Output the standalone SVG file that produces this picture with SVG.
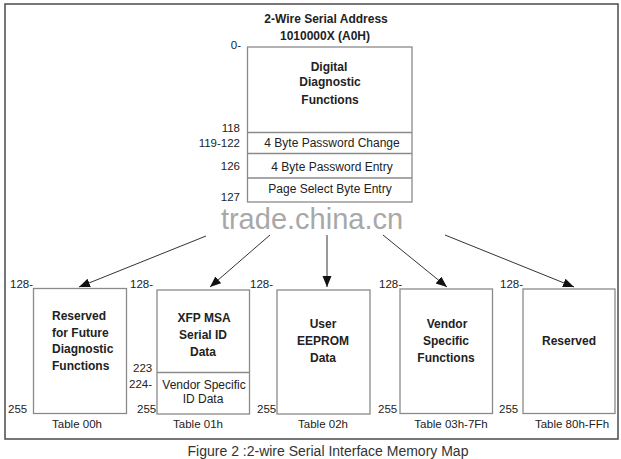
<svg xmlns="http://www.w3.org/2000/svg" width="621" height="459" viewBox="0 0 621 459">
<defs>
<marker id="ah" markerUnits="userSpaceOnUse" markerWidth="12" markerHeight="10" refX="11" refY="4.5" orient="auto">
<path d="M0,0 L11,4.5 L0,9 z" fill="#111"/>
</marker>
<style>
.box{fill:#fff;stroke:#8a8a8a;stroke-width:1.3}
.div{stroke:#8a8a8a;stroke-width:1.3}
.b{font-family:"Liberation Sans",Arial,sans-serif;font-weight:bold;font-size:12px;fill:#222}
.r{font-family:"Liberation Sans",Arial,sans-serif;font-size:12px;fill:#222}
.n{font-family:"Liberation Sans",Arial,sans-serif;font-size:11.5px;fill:#222}
.c{text-anchor:middle}
.e{text-anchor:end}
.arr{stroke:#333;stroke-width:1;fill:none;marker-end:url(#ah)}
</style>
</defs>
<rect width="621" height="459" fill="#fff"/>
<rect x="5" y="4" width="613" height="435" fill="none" stroke="#555" stroke-width="1.6"/>

<g id="title">
<text class="b c" x="326" y="23" font-size="13">2-Wire Serial Address</text>
<text class="b c" x="325" y="40" font-size="13">1010000X (A0H)</text>
</g>

<g id="main">
<rect class="box" x="247.5" y="47" width="164.5" height="155"/>
<line class="div" x1="247.5" y1="132.5" x2="412" y2="132.5"/>
<line class="div" x1="247.5" y1="153.5" x2="412" y2="153.5"/>
<line class="div" x1="247.5" y1="178" x2="412" y2="178"/>
<text class="b c" x="329" y="71">Digital</text>
<text class="b c" x="330" y="86">Diagnostic</text>
<text class="b c" x="330" y="104">Functions</text>
<text class="r c" x="332" y="147">4 Byte Password Change</text>
<text class="r c" x="332" y="171">4 Byte Password Entry</text>
<text class="r c" x="330" y="193">Page Select Byte Entry</text>
<text class="n e" x="241" y="49">0-</text>
<text class="n e" x="240" y="132">118</text>
<text class="n e" x="240" y="147">119-122</text>
<text class="n e" x="240" y="170">126</text>
<text class="n e" x="240" y="201">127</text>
</g>

<g id="connectors">
<line class="arr" x1="206" y1="236" x2="79" y2="287"/>
<line class="arr" x1="270" y1="235" x2="210" y2="287"/>
<line class="arr" x1="327" y1="235" x2="327" y2="287"/>
<line class="arr" x1="383" y1="235" x2="447" y2="287"/>
<line class="arr" x1="445" y1="235" x2="574" y2="287"/>
</g>

<g id="watermark">
<text x="312" y="229" font-family="Liberation Sans,Arial,sans-serif" font-size="29" fill="#a8a8a8" text-anchor="middle" stroke="#fff" stroke-width="3" paint-order="stroke">trade.china.cn</text>
</g>

<g id="table00">
<rect class="box" x="33.5" y="288.5" width="93" height="125"/>
<text class="b" x="52" y="320">Reserved</text>
<text class="b" x="52" y="337">for Future</text>
<text class="b" x="52" y="353">Diagnostic</text>
<text class="b" x="52" y="370">Functions</text>
<text class="n" x="10" y="288">128-</text>
<text class="n" x="8" y="413">255</text>
<text class="n c" x="77" y="428">Table 00h</text>
</g>

<g id="table01">
<rect class="box" x="157" y="290" width="92.5" height="124"/>
<line class="div" x1="157" y1="372.5" x2="249.5" y2="372.5"/>
<text class="b c" x="204" y="322">XFP MSA</text>
<text class="b c" x="203" y="339">Serial ID</text>
<text class="b c" x="203" y="356">Data</text>
<text class="r c" x="204" y="389">Vendor Specific</text>
<text class="r c" x="203" y="403">ID Data</text>
<text class="n" x="130" y="288">128-</text>
<text class="n" x="133" y="372">223</text>
<text class="n" x="129" y="388">224-</text>
<text class="n" x="137" y="413">255</text>
<text class="n c" x="198" y="428">Table 01h</text>
</g>

<g id="table02">
<rect class="box" x="277" y="290" width="93" height="124"/>
<text class="b c" x="323" y="328">User</text>
<text class="b c" x="323" y="345">EEPROM</text>
<text class="b c" x="323" y="362">Data</text>
<text class="n" x="250" y="288">128-</text>
<text class="n" x="257" y="413">255</text>
<text class="n c" x="323" y="428">Table 02h</text>
</g>

<g id="table03">
<rect class="box" x="400" y="289" width="92.5" height="124.5"/>
<text class="b c" x="447" y="328">Vendor</text>
<text class="b c" x="446" y="345">Specific</text>
<text class="b c" x="446" y="362">Functions</text>
<text class="n" x="379" y="288">128-</text>
<text class="n" x="378" y="413">255</text>
<text class="n c" x="451" y="428">Table 03h-7Fh</text>
</g>

<g id="table80">
<rect class="box" x="523" y="289" width="92" height="124.5"/>
<text class="b c" x="569" y="345">Reserved</text>
<text class="n" x="500" y="288">128-</text>
<text class="n" x="499" y="413">255</text>
<text class="n c" x="572" y="428">Table 80h-FFh</text>
</g>

<g id="caption">
<text x="328" y="456" font-family="Liberation Sans,Arial,sans-serif" font-size="14" fill="#333" text-anchor="middle">Figure 2 :2-wire Serial Interface Memory Map</text>
</g>
</svg>
